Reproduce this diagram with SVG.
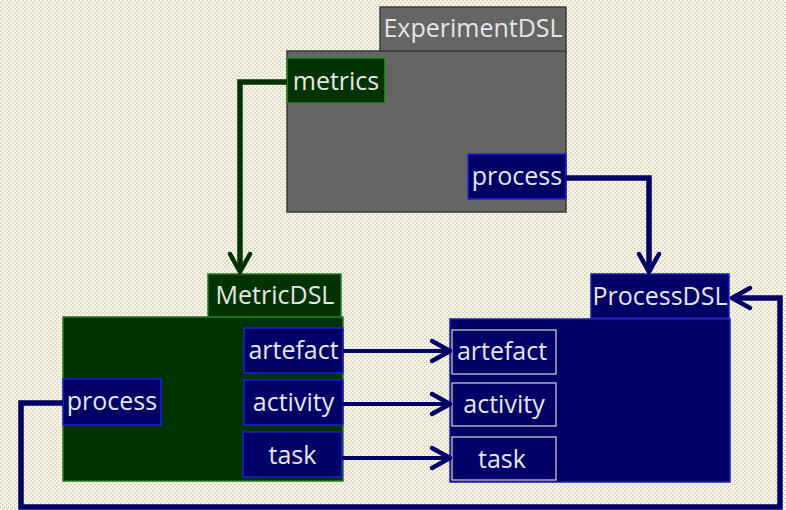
<svg xmlns="http://www.w3.org/2000/svg" width="786" height="510" viewBox="0 0 786 510">
  <style>
    .lbl { font-family: "Open Sans", "DejaVu Sans", sans-serif; font-size: 25px; fill: #e6e6e6; text-anchor: middle; }
    .grey { fill: #656565; stroke: #3c3c3c; stroke-width: 1.5; }
    .green { fill: #003300; stroke: #237a23; stroke-width: 1.5; }
    .navy { fill: #000066; stroke: #1c1cb0; stroke-width: 1.5; }
    .port-g { fill: #003300; stroke: #2a8c2a; stroke-width: 1.5; }
    .port-b { fill: #000066; stroke: #2020d8; stroke-width: 1.5; }
    .port-w { fill: #000066; stroke: #d8d8d8; stroke-width: 1.2; }
    .wire { fill: none; stroke-linejoin: miter; }
    .wire-g { stroke: #003300; stroke-width: 5.5; }
    .wire-b { stroke: #000066; stroke-width: 5.5; }
    .wire-t { stroke: #000066; stroke-width: 4; }
  </style>
  <defs>
    <!-- fine beige weave used as the page background -->
    <pattern id="bg" width="4" height="4" patternUnits="userSpaceOnUse">
      <rect width="4" height="4" fill="#f9f8f0"/>
      <rect x="2" y="0" width="2" height="1" fill="#dcd6b6"/>
      <rect x="2" y="1" width="1" height="1" fill="#dcd6b6"/>
      <rect x="0" y="2" width="2" height="1" fill="#dcd6b6"/>
      <rect x="0" y="3" width="1" height="1" fill="#dcd6b6"/>
    </pattern>
    <marker id="arrG" viewBox="-24 -14 28 28" markerWidth="28" markerHeight="28" refX="-2" refY="0" orient="auto" markerUnits="userSpaceOnUse">
      <path d="M-18,-10 L0,0 L-18,10" fill="none" stroke="#003300" stroke-width="4.5" stroke-linejoin="round" stroke-linecap="round"/>
    </marker>
    <marker id="arrB" viewBox="-24 -14 28 28" markerWidth="28" markerHeight="28" refX="-2" refY="0" orient="auto" markerUnits="userSpaceOnUse">
      <path d="M-18,-10 L0,0 L-18,10" fill="none" stroke="#000066" stroke-width="4.5" stroke-linejoin="round" stroke-linecap="round"/>
    </marker>
  </defs>

  <rect width="786" height="510" fill="url(#bg)"/>

  <!-- ExperimentDSL -->
  <g id="experiment-dsl">
    <rect class="grey" x="287" y="51" width="279" height="161"/>
    <rect class="grey" x="380" y="7" width="186" height="44"/>
    <text class="lbl" x="473" y="37">ExperimentDSL</text>
    <g id="experiment-metrics">
      <rect class="port-g" x="287" y="58" width="98" height="45"/>
      <text class="lbl" x="336" y="90">metrics</text>
    </g>
    <g id="experiment-process">
      <rect class="port-b" x="468" y="154" width="98" height="45"/>
      <text class="lbl" x="517" y="185">process</text>
    </g>
  </g>

  <!-- MetricDSL -->
  <g id="metric-dsl">
    <rect class="green" x="63" y="317" width="280" height="164"/>
    <rect class="green" x="208" y="274" width="133" height="43"/>
    <text class="lbl" x="275" y="304">MetricDSL</text>
    <g id="metric-artefact">
      <rect class="port-b" x="244" y="328" width="99" height="45"/>
      <text class="lbl" x="293.5" y="359">artefact</text>
    </g>
    <g id="metric-activity">
      <rect class="port-b" x="244" y="380" width="99" height="45"/>
      <text class="lbl" x="293.5" y="411">activity</text>
    </g>
    <g id="metric-task">
      <rect class="port-b" x="243" y="432" width="99" height="45"/>
      <text class="lbl" x="292.5" y="464">task</text>
    </g>
    <g id="metric-process">
      <rect class="port-b" x="63" y="379" width="98" height="46"/>
      <text class="lbl" x="112" y="410">process</text>
    </g>
  </g>

  <!-- ProcessDSL -->
  <g id="process-dsl">
    <rect class="navy" x="450" y="319" width="280" height="163"/>
    <rect class="navy" x="591" y="274" width="138" height="44"/>
    <text class="lbl" x="660" y="305">ProcessDSL</text>
    <g id="process-artefact">
      <rect class="port-w" x="452" y="330" width="104" height="44"/>
      <text class="lbl" x="502" y="360">artefact</text>
    </g>
    <g id="process-activity">
      <rect class="port-w" x="452" y="383" width="104" height="43"/>
      <text class="lbl" x="504" y="413">activity</text>
    </g>
    <g id="process-task">
      <rect class="port-w" x="452" y="437" width="104" height="43"/>
      <text class="lbl" x="502" y="468">task</text>
    </g>
  </g>

  <!-- connectors -->
  <g id="connectors">
    <path class="wire wire-g" d="M287,82 H240 V270" marker-end="url(#arrG)"/>
    <path class="wire wire-b" d="M566,178 H649 V270" marker-end="url(#arrB)"/>
    <path class="wire wire-t" d="M343,351 H448" marker-end="url(#arrB)"/>
    <path class="wire wire-t" d="M343,404 H448" marker-end="url(#arrB)"/>
    <path class="wire wire-t" d="M342,458 H448" marker-end="url(#arrB)"/>
    <path class="wire wire-b" d="M63,403 H21 V507 H780 V298 H734" marker-end="url(#arrB)"/>
  </g>
</svg>
